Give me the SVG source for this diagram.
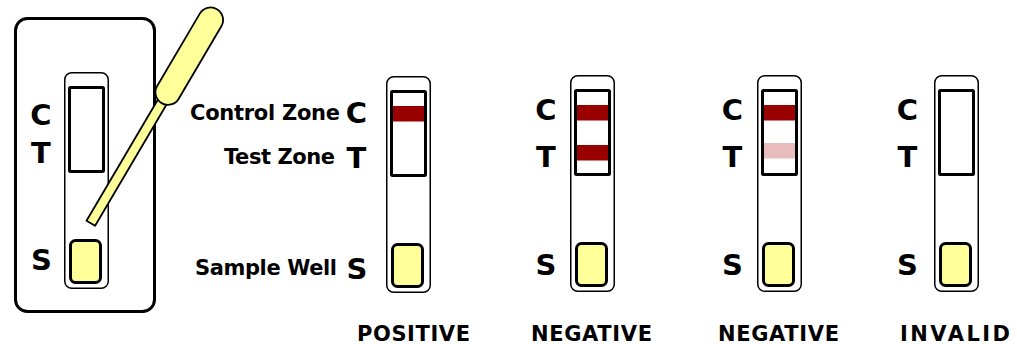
<svg xmlns="http://www.w3.org/2000/svg" xmlns:xlink="http://www.w3.org/1999/xlink" width="1017" height="344" viewBox="0 0 1017 344">
  <style>
    .letter { font-family: "DejaVu Sans", Verdana, sans-serif; font-weight: bold; font-size: 29px; fill: #000; text-anchor: middle; }
    .zone { font-family: "DejaVu Sans", Verdana, sans-serif; font-weight: bold; font-size: 21px; fill: #000; text-anchor: end; }
    .result { font-family: "DejaVu Sans", Verdana, sans-serif; font-weight: bold; font-size: 21px; fill: #000; }
    .casing { fill: #fff; stroke: #000; stroke-width: 1.5; }
    .window { fill: none; stroke: #000; stroke-width: 3; }
    .well { fill: #ffff99; stroke: #000; stroke-width: 3; }
    .band-strong { fill: #990000; }
    .band-faint { fill: #e8bcbc; }
    .pipette { fill: #ffff99; stroke: #000; stroke-width: 1.8; stroke-linejoin: round; }
  </style>
  <defs>
    <!-- test strip body: casing and sample well (window outline goes on top of bands) -->
    <g id="strip-body">
      <rect class="casing" x="0.75" y="0.75" width="43.5" height="215.5" rx="7"/>
      <rect class="well" x="6.5" y="168.5" width="30" height="42" rx="5"/>
    </g>
    <rect id="window" class="window" x="5.5" y="15.5" width="34" height="84" rx="1"/>
    <rect id="band-c" x="7" y="30" width="31" height="15.5"/>
    <rect id="band-t" x="7" y="70" width="31" height="15.5"/>
  </defs>

  <rect width="1017" height="344" fill="#fff"/>

  <!-- cassette with pipette -->
  <g id="cassette">
    <rect x="15.5" y="18.5" width="139" height="293" rx="12" fill="#fff" stroke="#000" stroke-width="3"/>
    <g transform="translate(64,72)">
      <use xlink:href="#strip-body"/>
      <use xlink:href="#window"/>
    </g>
    <text class="letter" x="41" y="125">C</text>
    <text class="letter" x="41" y="163">T</text>
    <text class="letter" x="41.5" y="270">S</text>
  </g>

  <g id="pipette" transform="translate(90.8,223.3) rotate(-59.5)">
    <rect class="pipette" x="0" y="-5" width="146" height="10"/>
    <path class="pipette" d="M152,-12.5 L236,-12.5 A12.5,12.5 0 0 1 236,12.5 L152,12.5 A12.5,12.5 0 0 1 152,-12.5 Z"/>
  </g>

  <!-- labelled positive strip -->
  <g id="strip-positive">
    <g transform="translate(386,76)">
      <use xlink:href="#strip-body"/>
      <use xlink:href="#band-c" class="band-strong"/>
      <use xlink:href="#window"/>
    </g>
    <text class="letter" x="356.5" y="123">C</text>
    <text class="letter" x="356.5" y="168">T</text>
    <text class="letter" x="357" y="279">S</text>
    <text class="zone" x="340" y="120" textLength="150" lengthAdjust="spacing">Control Zone</text>
    <text class="zone" x="335" y="164" textLength="111" lengthAdjust="spacing">Test Zone</text>
    <text class="zone" x="337" y="275" textLength="142" lengthAdjust="spacing">Sample Well</text>
    <text class="result" x="357" y="341" textLength="113" lengthAdjust="spacing">POSITIVE</text>
  </g>

  <!-- negative strip, strong test line -->
  <g id="strip-negative-1">
    <g transform="translate(570,75)">
      <use xlink:href="#strip-body"/>
      <use xlink:href="#band-c" class="band-strong"/>
      <use xlink:href="#band-t" class="band-strong"/>
      <use xlink:href="#window"/>
    </g>
    <text class="letter" x="546" y="120">C</text>
    <text class="letter" x="546" y="166.5">T</text>
    <text class="letter" x="546" y="275">S</text>
    <text class="result" x="531" y="341" textLength="121" lengthAdjust="spacing">NEGATIVE</text>
  </g>

  <!-- negative strip, faint test line -->
  <g id="strip-negative-2">
    <g transform="translate(757,75)">
      <use xlink:href="#strip-body"/>
      <use xlink:href="#band-c" class="band-strong"/>
      <use xlink:href="#band-t" class="band-faint" y="-2"/>
      <use xlink:href="#window"/>
    </g>
    <text class="letter" x="732.5" y="120">C</text>
    <text class="letter" x="732.5" y="166.5">T</text>
    <text class="letter" x="732.5" y="275">S</text>
    <text class="result" x="718" y="341" textLength="121" lengthAdjust="spacing">NEGATIVE</text>
  </g>

  <!-- invalid strip, no lines -->
  <g id="strip-invalid">
    <g transform="translate(934,75)">
      <use xlink:href="#strip-body"/>
      <use xlink:href="#window"/>
    </g>
    <text class="letter" x="907.5" y="120">C</text>
    <text class="letter" x="907.5" y="166.5">T</text>
    <text class="letter" x="907.5" y="275">S</text>
    <text class="result" x="900" y="341" textLength="110" lengthAdjust="spacing">INVALID</text>
  </g>

  <g id="connectors"/>
</svg>
